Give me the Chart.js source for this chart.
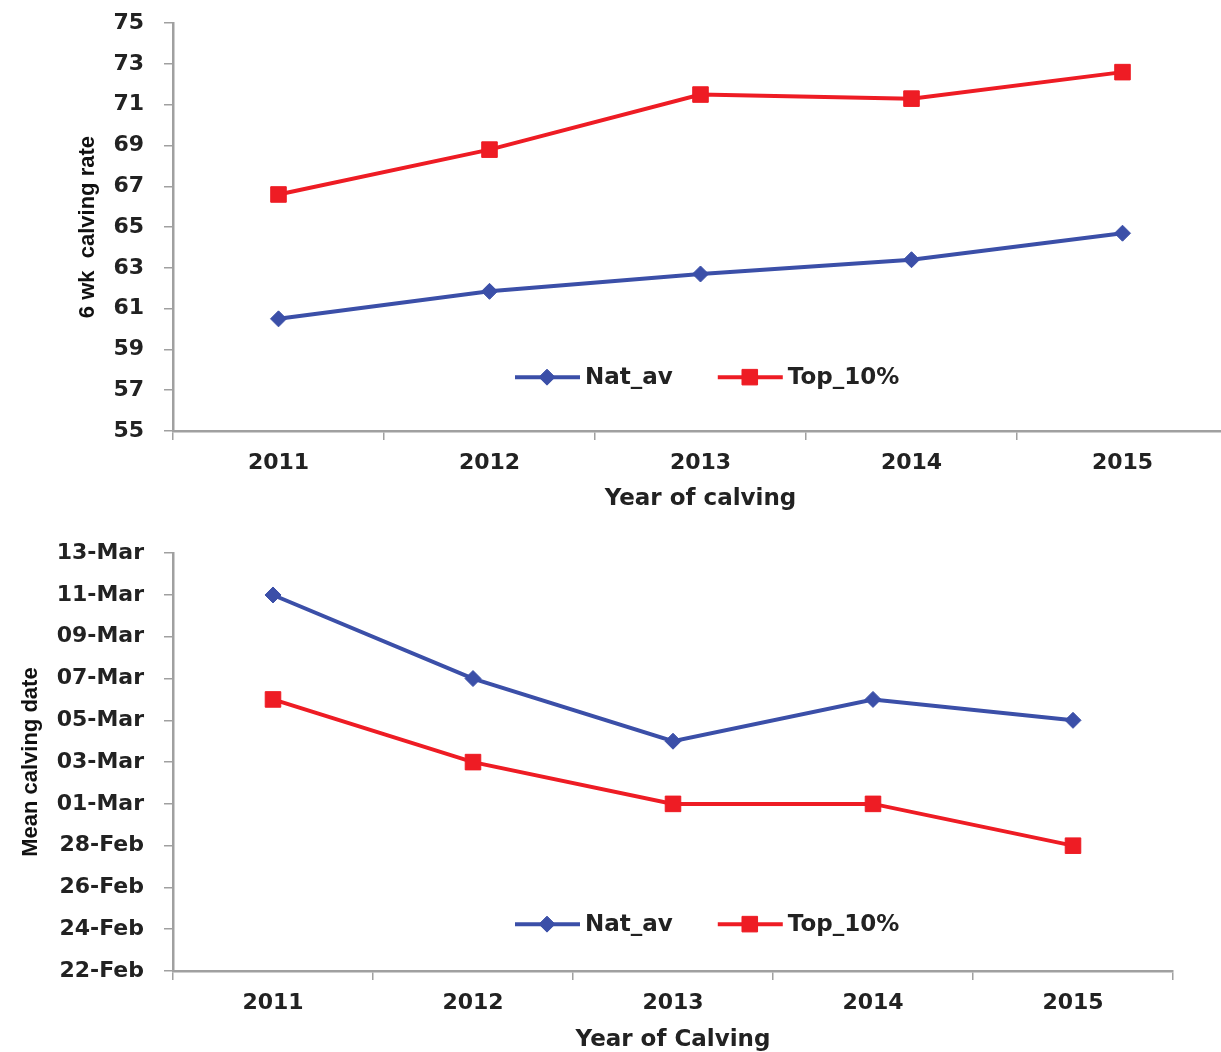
<!DOCTYPE html>
<html>
<head>
<meta charset="utf-8">
<script src="https://cdn.jsdelivr.net/npm/chart.js@4.4.0/dist/chart.umd.min.js"></script>
<style>
  html, body { margin: 0; padding: 0; background: #fff; overflow: hidden; }
  #wrap { width: 1221px; height: 1052px; overflow: hidden; position: relative; }
  #top-box { position: absolute; left: 0; top: -10px; width: 1240px; height: 535px; }
  #bot-box { position: absolute; left: 0; top: 520px; width: 1221px; height: 532px; }
</style>
</head>
<body>
<div id="wrap">
  <div id="top-box"><canvas id="rate-chart"></canvas></div>
  <div id="bot-box"><canvas id="date-chart"></canvas></div>
</div>
<script>
// ---- data ----
const YEARS = ['2011', '2012', '2013', '2014', '2015'];

// 6 wk calving rate (%)
const RATE_NAT_AV = [60.5, 61.85, 62.7, 63.4, 64.7];
const RATE_TOP_10 = [66.6, 68.8, 71.5, 71.3, 72.6];
const RATE_TICKS  = [55, 57, 59, 61, 63, 65, 67, 69, 71, 73, 75];

// mean calving date
const DATE_NAT_AV = ['11-Mar', '07-Mar', '04-Mar', '06-Mar', '05-Mar'];
const DATE_TOP_10 = ['06-Mar', '03-Mar', '01-Mar', '01-Mar', '28-Feb'];
const DATE_TICKS  = ['22-Feb', '24-Feb', '26-Feb', '28-Feb', '01-Mar', '03-Mar',
                     '05-Mar', '07-Mar', '09-Mar', '11-Mar', '13-Mar'];

// ---- helpers ----
const BLUE = '#3b4fa8';
const RED  = '#ee1c24';
const AXIS = '#a0a0a0';
const MONTHS = { Feb: 1, Mar: 2 };
// days since 22-Feb (2012 = leap year, so 28-Feb + 2 days = 01-Mar)
const BASE = Date.UTC(2012, 1, 22);
function dayNum(s) {
  const [d, m] = s.split('-');
  return (Date.UTC(2012, MONTHS[m], parseInt(d, 10)) - BASE) / 86400000;
}

const tickFont   = { family: 'DejaVu Sans', size: 22, weight: 'bold' };
const xTitleFont = { family: 'DejaVu Sans', size: 23, weight: 'bold' };
const yTitleFont = { family: "'Liberation Sans Narrow', 'Liberation Sans', sans-serif", size: 22, weight: 'bold' };

// legend drawn inside the plot area: line + marker + label
const innerLegend = {
  id: 'innerLegend',
  afterDraw(chart, args, opts) {
    const { ctx, chartArea } = chart;
    const y = chartArea.top + opts.yFrac * (chartArea.bottom - chartArea.top);
    let x = opts.x;
    ctx.save();
    ctx.font = 'bold 23px "DejaVu Sans"';
    ctx.textBaseline = 'middle';
    chart.data.datasets.forEach(ds => {
      ctx.strokeStyle = ds.borderColor;
      ctx.fillStyle = ds.borderColor;
      ctx.lineWidth = ds.borderWidth;
      ctx.beginPath();
      ctx.moveTo(x, y);
      ctx.lineTo(x + 65, y);
      ctx.stroke();
      ctx.lineWidth = 1;
      Chart.helpers.drawPoint(ctx, {
        pointStyle: ds.pointStyle, radius: ds.pointRadius, borderWidth: 1
      }, x + 32, y);
      ctx.fillStyle = '#222';
      ctx.fillText(ds.label, x + 70, y + 1);
      x += 70 + ctx.measureText(ds.label).width + 45;
    });
    ctx.restore();
  }
};

function lineDs(label, data, color, style, r) {
  return {
    label, data,
    borderColor: color, backgroundColor: color,
    pointBackgroundColor: color, pointBorderColor: color,
    borderWidth: 4, pointStyle: style, pointRadius: r, pointBorderWidth: 1,
    tension: 0
  };
}

function makeChart(canvas, cfg) {
  return new Chart(canvas, {
    type: 'line',
    data: {
      labels: YEARS,
      datasets: [
        lineDs('Nat_av',  cfg.nat, BLUE, 'rectRot', 8),
        lineDs('Top_10%', cfg.top, RED,  'rect',    11)
      ]
    },
    options: {
      responsive: true, maintainAspectRatio: false, animation: false,
      layout: { padding: { top: 22, right: cfg.padRight, left: 0, bottom: 0 } },
      plugins: {
        legend: { display: false },
        tooltip: { enabled: false },
        innerLegend: { x: 515, yFrac: cfg.legendFrac }
      },
      scales: {
        x: {
          type: 'category', offset: true,
          grid: { display: true, offset: true, drawOnChartArea: false, color: AXIS, tickLength: 9, lineWidth: 1.5 },
          border: { color: AXIS, width: 2.5 },
          ticks: { color: '#222', font: tickFont, padding: 10, maxRotation: 0 },
          title: { display: true, text: cfg.xTitle, color: '#222', font: xTitleFont, padding: { top: 0, bottom: cfg.xTitlePad } },
          afterFit: s => { s.height = cfg.xHeight; }
        },
        y: {
          min: cfg.min, max: cfg.max,
          afterBuildTicks: s => { s.ticks = cfg.ticks.map(v => ({ value: v })); },
          grid: { display: true, drawOnChartArea: false, color: AXIS, tickLength: 9, lineWidth: 1.5 },
          border: { color: AXIS, width: 2.5 },
          ticks: { color: '#222', font: tickFont, padding: 20, callback: cfg.fmt },
          title: { display: true, text: cfg.yTitle, color: '#111', font: yTitleFont, padding: { top: cfg.yTitlePad, bottom: 0 } },
          afterFit: s => { s.width = 173; }
        }
      }
    },
    plugins: [innerLegend]
  });
}

makeChart(document.getElementById('rate-chart'), {
  nat: RATE_NAT_AV, top: RATE_TOP_10,
  ticks: RATE_TICKS, min: 55, max: 75, fmt: v => v,
  padRight: 12, xHeight: 94, xTitlePad: 12,
  xTitle: 'Year of calving', yTitle: '6 wk  calving rate', yTitlePad: 75,
  legendFrac: (377 - 22) / (431 - 22)
});

const dateIdx = DATE_TICKS.map(dayNum);
makeChart(document.getElementById('date-chart'), {
  nat: DATE_NAT_AV.map(dayNum), top: DATE_TOP_10.map(dayNum),
  ticks: dateIdx, min: dateIdx[0], max: dateIdx[dateIdx.length - 1],
  fmt: v => DATE_TICKS[dateIdx.indexOf(v)],
  padRight: 48, xHeight: 81, xTitlePad: -2,
  xTitle: 'Year of Calving', yTitle: 'Mean calving date', yTitlePad: 18,
  legendFrac: (924 - 552) / (971 - 552)
});
</script>
</body>
</html>
